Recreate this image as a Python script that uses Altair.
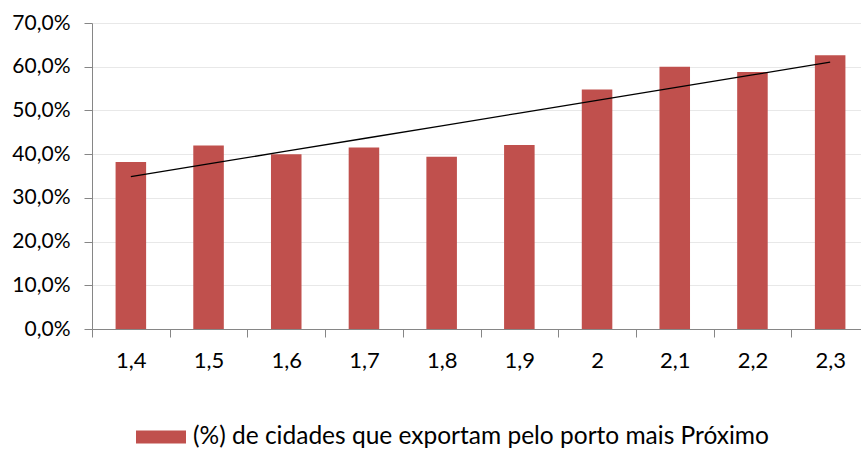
import altair as alt
import numpy as np
import pandas as pd

# Distance class (x axis) and share of cities exporting through the nearest port
categories = ["1,4", "1,5", "1,6", "1,7", "1,8", "1,9", "2", "2,1", "2,2", "2,3"]
share = [0.382, 0.420, 0.400, 0.415, 0.394, 0.421, 0.548, 0.600, 0.588, 0.626]
series_name = "(%) de cidades que exportam pelo porto mais Próximo"

# Linear trend fitted over the category index
idx = np.arange(len(share))
slope, intercept = np.polyfit(idx, share, 1)
trend = (intercept + slope * idx).tolist()

df = pd.DataFrame({"cat": categories, "share": share, "trend": trend, "serie": series_name})

FONT = "Lato"
BAR = "#C0504D"

x = alt.X(
    "cat:N",
    sort=categories,
    title=None,
    scale=alt.Scale(paddingInner=0, paddingOuter=0, range=[0, 777]),
    axis=alt.Axis(
        tickBand="extent",
        labelAngle=0,
        tickSize=8,
        labelPadding=13,
        domainColor="#868686",
        tickColor="#868686",
        labelFont=FONT,
        labelFontSize=22,
        labelColor="#000000",
        grid=False,
    ),
)

y = alt.Y(
    "share:Q",
    title=None,
    scale=alt.Scale(domain=[0, 0.7], nice=False),
    axis=alt.Axis(
        values=[0, 0.1, 0.2, 0.3, 0.4, 0.5, 0.6, 0.7],
        labelExpr="replace(format(datum.value, '.1%'), '.', ',')",
        tickSize=8,
        labelPadding=14,
        domainColor="#868686",
        tickColor="#868686",
        gridColor="#E8E8E8",
        gridWidth=1.2,
        labelFont=FONT,
        labelFontSize=21,
        labelColor="#000000",
    ),
)

bars = alt.Chart(df).mark_bar(width=alt.RelativeBandSize(0.393)).encode(
    x=x,
    y=y,
    color=alt.Color(
        "serie:N",
        scale=alt.Scale(range=[BAR]),
        legend=alt.Legend(
            title=None,
            orient="none",
            legendX=44,
            legendY=389,
            symbolType="M-1,-0.26H1V0.26H-1Z",
            symbolSize=2500,
            symbolStrokeWidth=0,
            labelFont=FONT,
            labelFontSize=24.5,
            labelColor="#000000",
            labelOffset=7,
            labelLimit=800,
            padding=0,
        ),
    ),
)

line = alt.Chart(df).mark_line(color="#000000", strokeWidth=1.3).encode(
    x=alt.X("cat:N", sort=categories),
    y=alt.Y("trend:Q"),
)

chart = (
    alt.layer(bars, line)
    .properties(
        width=769,
        height=306,
        autosize=alt.AutoSizeParams(type="none"),
        padding={"left": 92, "top": 23, "right": 0, "bottom": 121},
        background="#FFFFFF",
    )
    .configure_view(stroke=None)
)

chart.save("out.html", embed_options={"renderer": "svg", "actions": False})
